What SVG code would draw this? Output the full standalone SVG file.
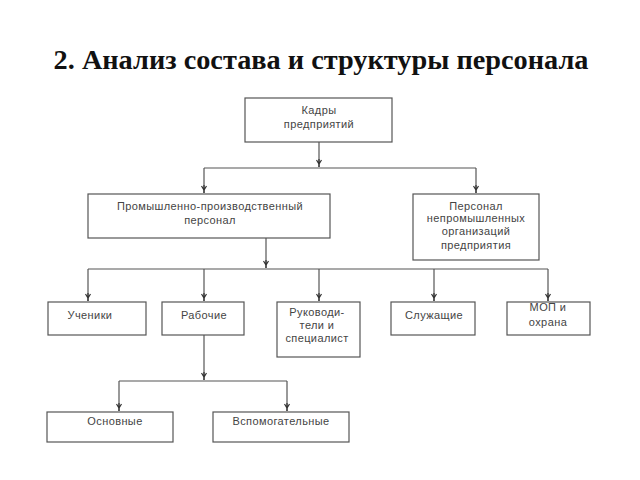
<svg xmlns="http://www.w3.org/2000/svg" width="640" height="480" viewBox="0 0 640 480">
<style>
.box{fill:#fff;stroke:#555;stroke-width:1.2}
.t{font-family:"Liberation Sans",Arial,sans-serif;font-size:11px;fill:#444;text-anchor:middle;letter-spacing:0.4px}
.c{fill:none;stroke:#555;stroke-width:1.2}
.title{font-family:"Liberation Serif","Times New Roman",serif;font-size:28.3px;font-weight:bold;fill:#111;text-anchor:middle}
</style>
<defs>
<marker id="ar" markerUnits="userSpaceOnUse" markerWidth="9" markerHeight="7" refX="8" refY="3" orient="auto" viewBox="0 0 9 6">
<path d="M1,0.5 L5,3 L1,5.5 M0,3 L8,3" fill="none" stroke="#333" stroke-width="1.2"/>
</marker>
</defs>
<rect width="640" height="480" fill="#fff"/>
<text class="title" x="321" y="69">2. Анализ состава и структуры персонала</text>

<g id="connectors">
<path class="c" d="M319,142 V167" marker-end="url(#ar)"/>
<path class="c" d="M204,168 H476"/>
<path class="c" d="M204,168 V193" marker-end="url(#ar)"/>
<path class="c" d="M476,168 V193" marker-end="url(#ar)"/>
<path class="c" d="M266,238 V268" marker-end="url(#ar)"/>
<path class="c" d="M88,269 H548"/>
<path class="c" d="M88,269 V301" marker-end="url(#ar)"/>
<path class="c" d="M204,269 V301" marker-end="url(#ar)"/>
<path class="c" d="M319,269 V301" marker-end="url(#ar)"/>
<path class="c" d="M434,269 V301" marker-end="url(#ar)"/>
<path class="c" d="M548,269 V301" marker-end="url(#ar)"/>
<path class="c" d="M204,335 V380" marker-end="url(#ar)"/>
<path class="c" d="M119,381 H287"/>
<path class="c" d="M119,381 V411" marker-end="url(#ar)"/>
<path class="c" d="M287,381 V411" marker-end="url(#ar)"/>
</g>

<g id="kadry">
<rect class="box" x="245" y="98" width="147" height="44"/>
<text class="t" x="319" y="114">Кадры</text>
<text class="t" x="319" y="128">предприятий</text>
</g>
<g id="ppp">
<rect class="box" x="88" y="194" width="242" height="44"/>
<text class="t" x="210" y="210">Промышленно-производственный</text>
<text class="t" x="210" y="224">персонал</text>
</g>
<g id="npp">
<rect class="box" x="413" y="194" width="126" height="66"/>
<text class="t" x="476" y="210">Персонал</text>
<text class="t" x="476" y="222">непромышленных</text>
<text class="t" x="476" y="235">организаций</text>
<text class="t" x="476" y="249">предприятия</text>
</g>
<g id="ucheniki">
<rect class="box" x="48" y="302" width="98" height="33"/>
<text class="t" x="90" y="319">Ученики</text>
</g>
<g id="rabochie">
<rect class="box" x="162" y="302" width="82" height="33"/>
<text class="t" x="204" y="319">Рабочие</text>
</g>
<g id="ruk">
<rect class="box" x="277" y="302" width="83" height="55"/>
<text class="t" x="317" y="316">Руководи-</text>
<text class="t" x="317" y="329">тели и</text>
<text class="t" x="317" y="342">специалист</text>
</g>
<g id="sluzh">
<rect class="box" x="391" y="302" width="84" height="33"/>
<text class="t" x="434" y="319">Служащие</text>
</g>
<g id="mop">
<rect class="box" x="507" y="302" width="83" height="33"/>
<text class="t" x="548" y="311">МОП и</text>
<text class="t" x="548" y="326">охрана</text>
</g>
<g id="osnovnye">
<rect class="box" x="47" y="412" width="126" height="30"/>
<text class="t" x="115" y="425">Основные</text>
</g>
<g id="vspom">
<rect class="box" x="213" y="412" width="136" height="30"/>
<text class="t" x="281" y="425">Вспомогательные</text>
</g>
</svg>
